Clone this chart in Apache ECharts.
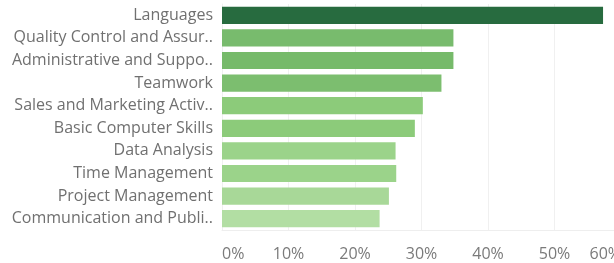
<!DOCTYPE html>
<html><head><meta charset="utf-8">
<script src="https://cdn.jsdelivr.net/npm/echarts@6/dist/echarts.min.js"></script>
<style>html,body{margin:0;padding:0;background:#fff}#c{width:614px;height:263px}</style>
</head><body><div id="c"></div>
<script>
const categories = ["Languages","Quality Control and Assur..","Administrative and Suppo..","Teamwork","Sales and Marketing Activ..","Basic Computer Skills","Data Analysis","Time Management","Project Management","Communication and Publi.."];
const values = [57.3, 34.8, 34.8, 33.0, 30.2, 29.0, 26.1, 26.2, 25.1, 23.7];
const barColors = ["#276b3f","#78bb6d","#76ba6a","#7cbe6f","#8ccb7a","#8ccb7a","#9bd38a","#9bd38a","#a8d898","#b2dea3"];
const xTicks = [0,10,20,30,40,50,60];

const chart = echarts.init(document.getElementById('c'), null, {renderer:'canvas'});
chart.setOption({
  animation:false,
  grid:{left:222,right:-7,top:4,bottom:33,containLabel:false,outerBoundsMode:'none'},
  xAxis:{type:'value',min:0,max:60,interval:10,
    axisLine:{show:true,lineStyle:{color:'#eeeeee'}},axisTick:{show:false},
    splitLine:{show:true,lineStyle:{color:'#f0f0f0',width:1}},
    axisLabel:{formatter:v=>xTicks.includes(v)?v+'%':'',color:'#7a7a7a',fontFamily:'Open Sans',fontSize:16,margin:16,
      alignMinLabel:'left',alignMaxLabel:'right',showMaxLabel:true}},
  yAxis:{type:'category',inverse:true,data:categories,
    axisLine:{show:true,lineStyle:{color:'#f0f0f0'}},axisTick:{show:false},
    axisLabel:{color:'#707070',fontFamily:'Open Sans',fontSize:16,margin:9}},
  series:[{type:'bar',barCategoryGap:'24%',
    data:values.map((v,i)=>({value:v,itemStyle:{color:barColors[i]}}))}]
});
</script></body></html>
